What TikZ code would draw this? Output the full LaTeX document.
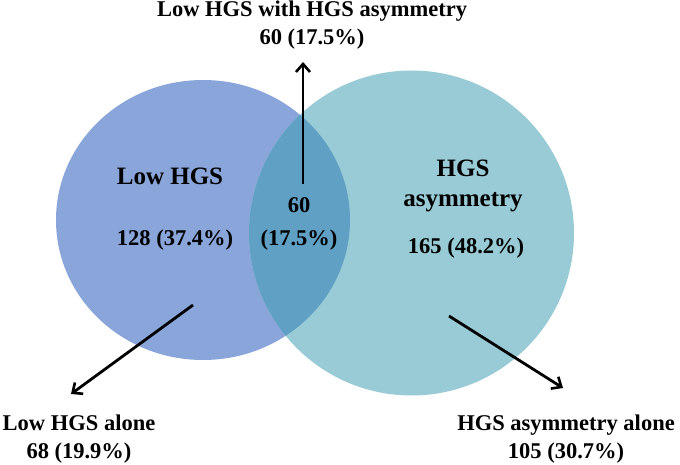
\documentclass[tikz,border=0pt]{standalone}
\usepackage{fontspec}
\setmainfont{Liberation Serif}
\usetikzlibrary{arrows.meta}
\definecolor{lowblue}{RGB}{137,165,217}
\definecolor{asymteal}{RGB}{153,203,214}
\definecolor{bothblue}{RGB}{96,160,196}

\begin{document}
\begin{tikzpicture}[x=1pt,y=-1pt,
        lbl/.style={anchor=base, inner sep=0pt, font=\fontsize{22.5}{28}\selectfont\bfseries},
        setlbl/.style={lbl, font=\fontsize{25}{30}\selectfont\bfseries},
        conn/.style={line width=2.8pt, -{Straight Barb[length=8pt,width=14pt,line width=2.6pt]}}]
        \useasboundingbox (0,0) rectangle (680,465);
        % Draw the two sets
        \fill[lowblue] (203,220) ellipse [x radius=147, y radius=140];
        \fill[asymteal] (411.5,233) circle (162.5);
        \begin{scope}
            \clip (203,220) ellipse [x radius=147, y radius=140];
            \fill[bothblue] (411.5,233) circle (162.5);
        \end{scope}
        % Labels inside the sets
        \node[setlbl] (lowhgs) at (170,185) {Low HGS};
        \node[lbl] (lowcount) at (175,246) {128 (37.4\%)};
        \node[lbl] (bothcount) at (299,213) {60};
        \node[lbl] (bothpct) at (299,246) {(17.5\%)};
        \node[setlbl, align=center] (asymhgs) at (463,207) {HGS\\asymmetry};
        \node[lbl] (asymcount) at (466,253) {165 (48.2\%)};
        % Labels outside (base is the last line)
        \node[lbl, align=center] (bothtitle) at (312,45) {Low HGS with HGS asymmetry\\60 (17.5\%)};
        \node[lbl, align=center] (lowalone) at (79,458) {Low HGS alone\\68 (19.9\%)};
        \node[lbl, align=center] (asymalone) at (566,458) {HGS asymmetry alone\\105 (30.7\%)};
        % Arrows from the regions to the outside labels
        \coordinate (uptail) at (303,184);
        \coordinate (uptip) at (303,62);
        \coordinate (lowtail) at (193,305);
        \coordinate (lowtip) at (71,394);
        \coordinate (asymtail) at (449,316);
        \coordinate (asymtip) at (563,388);
        \draw[conn] (uptail) -- (uptip);
        \draw[conn] (lowtail) -- (lowtip);
        \draw[conn] (asymtail) -- (asymtip);
    \end{tikzpicture}
\end{document}
